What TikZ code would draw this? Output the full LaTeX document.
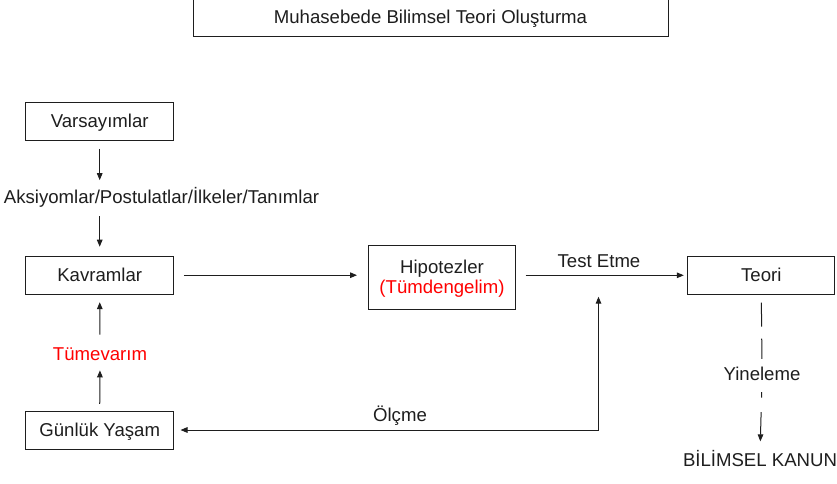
\documentclass[tikz,border=0pt]{standalone}
\usepackage{fontspec}
\setmainfont{Liberation Sans}
\usetikzlibrary{arrows.meta}
\definecolor{ink}{HTML}{1E1E1E}
\definecolor{redtext}{HTML}{FF0000}
\begin{document}
\begin{tikzpicture}[x=1pt,y=-1pt,
  font=\fontsize{18.6}{22}\selectfont, text=ink,
  box/.style={draw=ink, line width=1pt, minimum width=148pt, minimum height=38pt,
              text height=13.3pt, text depth=0pt, inner sep=0pt},
  lbl/.style={inner sep=0pt, text height=13.3pt, text depth=0pt},
  conn/.style={draw=ink, line width=1pt},
  tip/.style={Triangle[length=7pt,width=5.6pt]},
  arr/.style={conn, -{Triangle[length=7pt,width=5.6pt]}},
  dualarr/.style={conn, {Triangle[length=7pt,width=5.6pt]}-{Triangle[length=7pt,width=5.6pt]}}]
\useasboundingbox (0,0) rectangle (837,484);
\fill[white] (0,0) rectangle (837,484);

% title box (its top edge runs off the page)
\node[box, minimum width=475pt, minimum height=40pt] (title) at (430.5,17) {Muhasebede Bilimsel Teori Oluşturma};

% left column
\node[box] (varsayim) at (99.7,121.3) {Varsayımlar};
\node[lbl] (aksiyom) at (161.5,197) {Aksiyomlar/Postulatlar/İlkeler/Tanımlar};
\node[box] (kavram) at (99.7,275.2) {Kavramlar};
\node[lbl, text=redtext] (tumevarim) at (100,354) {Tümevarım};
\node[box] (gunluk) at (99.7,430) {Günlük Yaşam};

% hypotheses
\node[box, minimum width=147pt, minimum height=64pt] (hip) at (442,277.3) {};
\node[lbl] (hipA) at (442,267) {Hipotezler};
\node[lbl, text=redtext] (hipB) at (442,286.5) {(Tümdengelim)};

% theory and law
\node[box, minimum width=147pt, minimum height=37.5pt] (teori) at (761.3,275.3) {Teori};
\node[lbl] (yineleme) at (762,374) {Yineleme};
\node[lbl] (kanun) at (760,460) {BİLİMSEL KANUN};

% edge labels
\node[lbl] (test) at (599,260.5) {Test Etme};
\node[lbl] (olcme) at (400,415) {Ölçme};
\coordinate (olcmetop) at (598.5,296.7);

% connectors
\draw[arr, shorten <=8pt, shorten >=10pt] (varsayim.south) -- (varsayim.south |- aksiyom.north);
\draw[arr, shorten <=12.5pt, shorten >=9pt] (varsayim.south |- aksiyom.south) -- (kavram.north);
\draw[arr, shorten <=9.6pt, shorten >=11pt] (kavram.east) -- (kavram.east -| hip.west);
\draw[arr, shorten <=9.5pt, shorten >=3.5pt] (hip.east |- teori.west) -- (teori.west);
\draw[arr, shorten <=6.7pt, shorten >=9.5pt] (gunluk.north) -- (tumevarim.south);
\draw[arr, shorten <=12.5pt, shorten >=7.5pt] (tumevarim.north) -- (kavram.south);
\draw[dualarr, shorten >=6.3pt] (olcmetop) |- (gunluk.east);
\draw[conn, dash pattern=on 24pt off 12pt, shorten <=8pt, shorten >=8.2pt] (teori.south) -- (yineleme.north);
\draw[arr, dash pattern=on 5.6pt off 14.4pt on 60pt off 0pt, shorten <=11.2pt, shorten >=11.8pt] (yineleme.south) -- (kanun.north);
\end{tikzpicture}
\end{document}
